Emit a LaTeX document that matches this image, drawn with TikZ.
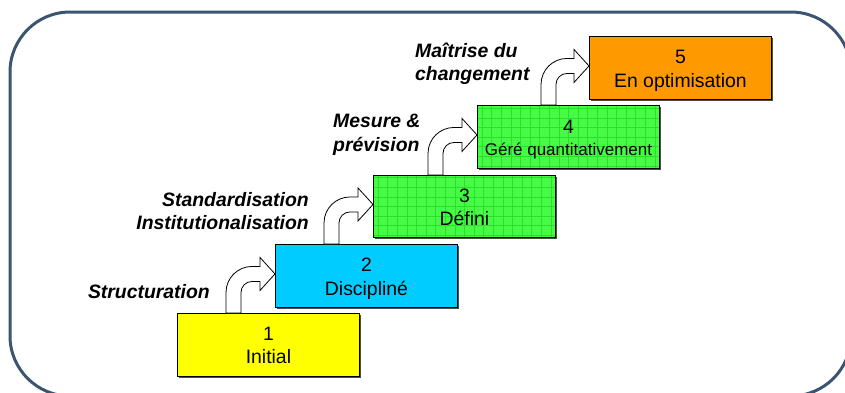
\documentclass[tikz,border=0pt]{standalone}
\usepackage{fontspec}
\setmainfont{Liberation Sans}
\usetikzlibrary{calc,shadows}
\definecolor{framecol}{RGB}{59,85,112}
\definecolor{yel}{RGB}{255,255,0}
\definecolor{cya}{RGB}{0,204,255}
\definecolor{grn}{RGB}{70,250,70}
\definecolor{grnline}{RGB}{40,225,40}
\definecolor{ora}{RGB}{255,153,0}
\tikzset{
 stage/.style={draw=black, line width=0.9pt, minimum width=182pt, minimum height=63pt, inner sep=0pt, anchor=north west,
   drop shadow={shadow xshift=1.2pt, shadow yshift=-1.2pt, opacity=0.7, fill=black}},
 gridded/.style={path picture={\draw[grnline, line width=0.45pt] (path picture bounding box.south west) grid[step=9.6pt] (path picture bounding box.north east);}},
 numtext/.style={font=\fontsize{19.4}{23}\selectfont, anchor=base, inner sep=0pt},
 smalltext/.style={font=\fontsize{17}{20}\selectfont, anchor=base, inner sep=0pt},
 lab/.style={font=\fontsize{19.4}{23}\selectfont\bfseries\itshape, inner sep=0pt},
 bendarrow/.style={fill=white, draw=black, line width=0.8pt, line join=miter}
}
\newcommand\drawbend[3]{%
 \filldraw[bendarrow] let \p1=($(#1.north west)+(#2,0)$), \p2=($(#3.west)+(0,-2)$) in
  (\x1,\y1) -- (\x1,\y2-18.5pt)
  .. controls (\x1,\y2-4.14pt) and (\x1+11.64pt,\y2+7.5pt) .. (\x1+26pt,\y2+7.5pt)
  -- (\x2-15pt,\y2+7.5pt) -- (\x2-15pt,\y2+16.5pt) -- (\x2,\y2) -- (\x2-15pt,\y2-16.5pt)
  -- (\x2-15pt,\y2-7.5pt) -- (\x1+26pt,\y2-7.5pt)
  .. controls (\x1+19.92pt,\y2-7.5pt) and (\x1+15pt,\y2-12.42pt) .. (\x1+15pt,\y2-18.5pt)
  -- (\x1+15pt,\y1) -- cycle;}
\begin{document}
\begin{tikzpicture}[x=1pt,y=-1pt]
\useasboundingbox (0,0) rectangle (845,392);
\clip (0,0) rectangle (845,392);
\draw[framecol, line width=3pt, rounded corners=60pt] (10,12) rectangle (851,396);

\node[stage, fill=yel] (b1) at (177,313) {};
\node[stage, fill=cya] (b2) at (275,244) {};
\node[stage, fill=grn, gridded, minimum height=62pt] (b3) at (373,175) {};
\node[stage, fill=grn, gridded] (b4) at (477,105) {};
\node[stage, fill=ora] (b5) at (589,36) {};

\node[numtext] (n1) at ($(b1.north)+(0,27)$) {1};
\node[numtext] (t1) at ($(b1.north)+(0,50.5)$) {Initial};
\node[numtext] (n2) at ($(b2.north)+(0,27.5)$) {2};
\node[numtext] (t2) at ($(b2.north)+(0,51)$) {Disciplin\'e};
\node[numtext] (n3) at ($(b3.north)+(0,27)$) {3};
\node[numtext] (t3) at ($(b3.north)+(0,50)$) {D\'efini};
\node[numtext] (n4) at ($(b4.north)+(0,28.5)$) {4};
\node[smalltext] (t4) at ($(b4.north)+(0,50)$) {G\'er\'e quantitativement};
\node[numtext] (n5) at ($(b5.north)+(0,27)$) {5};
\node[numtext] (t5) at ($(b5.north)+(0,51)$) {En optimisation};

\drawbend{b1}{49}{b2}
\drawbend{b2}{49}{b3}
\drawbend{b3}{55}{b4}
\drawbend{b4}{64}{b5}

\node[lab, anchor=base east] (l1) at (210,298) {Structuration};
\node[lab, anchor=base east] (l2a) at (309,206) {Standardisation};
\node[lab, anchor=base east] (l2b) at (309,229) {Institutionalisation};
\node[lab, anchor=base west] (l3a) at (333,127) {Mesure \&};
\node[lab, anchor=base west] (l3b) at (333,151) {pr\'evision};
\node[lab, anchor=base west] (l4a) at (415,57) {Ma\^itrise du};
\node[lab, anchor=base west] (l4b) at (415,80) {changement};
\end{tikzpicture}
\end{document}
